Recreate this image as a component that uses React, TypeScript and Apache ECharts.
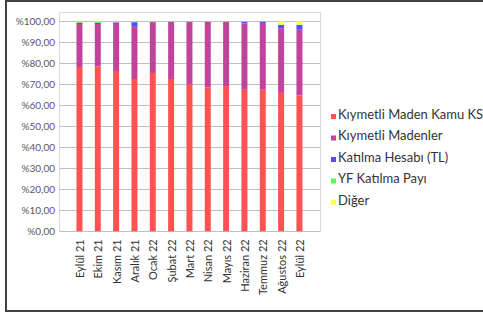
import React, { useEffect, useRef } from "react";
import * as echarts from "echarts";

const categories = [
  "Eylül 21", "Ekim 21", "Kasım 21", "Aralık 21", "Ocak 22", "Şubat 22", "Mart 22",
  "Nisan 22", "Mayıs 22", "Haziran 22", "Temmuz 22", "Ağustos 22", "Eylül 22",
];
const kamuKS = [78.2, 78.6, 76.3, 72.5, 75.4, 72.5, 70.1, 68.4, 69.2, 67.4, 67.4, 65.9, 64.7];
const madenler = [20.5, 20.1, 23.1, 24.9, 24.2, 27.2, 29.6, 31.3, 30.5, 31.6, 31.4, 30.8, 31.3];
const katilma = [0.5, 0.5, 0.2, 2.2, 0.1, 0.1, 0.1, 0.1, 0.1, 0.8, 1.0, 1.6, 2.3];
const yf = [0.6, 0.6, 0.2, 0.2, 0.2, 0.1, 0.1, 0.1, 0.1, 0.1, 0.1, 0.1, 0.1];
const diger = [0.2, 0.2, 0.2, 0.2, 0.1, 0.1, 0.1, 0.1, 0.1, 0.1, 0.1, 1.6, 1.6];
const yTicks = [0, 10, 20, 30, 40, 50, 60, 70, 80, 90, 100];

const seriesDefs = [
  { name: "Kıymetli Maden Kamu KS", data: kamuKS, color: "#FF5252" },
  { name: "Kıymetli Madenler", data: madenler, color: "#C2439B" },
  { name: "Katılma Hesabı (TL)", data: katilma, color: "#5050FF" },
  { name: "YF Katılma Payı", data: yf, color: "#50FF50" },
  { name: "Diğer", data: diger, color: "#FFFF50" },
];

const FONT = "Lato, 'Noto Sans', sans-serif";

export default function App() {
  const ref = useRef<HTMLDivElement>(null);
  useEffect(() => {
    if (!ref.current) return;
    const chart = echarts.init(ref.current, null, { renderer: "svg" });
    chart.setOption({
      animation: false,
      backgroundColor: "#ffffff",
      graphic: [
        {
          type: "rect",
          shape: { x: 6, y: 1, width: 490, height: 310 },
          style: { fill: "none", stroke: "#404040", lineWidth: 2 },
          z: 100,
        },
        {
          type: "rect",
          shape: { x: 59.5, y: 12.5, width: 261, height: 219 },
          style: { fill: "none", stroke: "#D9D9D9", lineWidth: 1 },
          z: 0,
        },
      ],
      grid: [
        { left: 70.3, right: 174.4, top: 21.3, bottom: 81.7 },
        { left: 59, right: 163, top: 21.3, bottom: 81.7 },
      ],
      xAxis: [
        {
          type: "category",
          gridIndex: 0,
          data: categories,
          axisLine: { show: false },
          axisTick: { show: false },
          axisLabel: {
            rotate: 90,
            interval: 0,
            margin: 8,
            fontSize: 11,
            fontFamily: FONT,
            color: "#333333",
          },
        },
        {
          type: "value",
          gridIndex: 1,
          show: false,
          min: 0,
          max: 1,
        },
      ],
      yAxis: [
        { type: "value", gridIndex: 0, min: 0, max: 100, show: false },
        {
          type: "value",
          gridIndex: 1,
          min: 0,
          max: 100,
          interval: 10,
          axisLine: { show: false },
          axisTick: { show: false },
          splitLine: { show: true, lineStyle: { color: "#BFBFBF", width: 1 } },
          axisLabel: {
            margin: 4,
            fontSize: 10,
            fontFamily: FONT,
            color: "#595959",
            formatter: (v: number) => (yTicks.includes(v) ? "%" + v + ",00" : ""),
          },
        },
      ],
      legend: {
        orient: "vertical",
        left: 326,
        top: 102,
        itemWidth: 5,
        itemHeight: 11,
        itemGap: 8.5,
        icon: "path://M0,0h5v0h-5z M0,6h5v5h-5z",
        textStyle: { fontSize: 13, fontFamily: FONT, color: "#333333", padding: [0, 0, 0, -3] },
        data: seriesDefs.map((s) => s.name),
      },
      series: seriesDefs.map((s) => ({
        type: "bar",
        name: s.name,
        stack: "total",
        xAxisIndex: 0,
        yAxisIndex: 0,
        data: s.data,
        barWidth: 6,
        itemStyle: { color: s.color },
      })),
    });
    return () => chart.dispose();
  }, []);
  return (
    <div
      ref={ref}
      style={{ position: "fixed", left: 0, top: 0, width: 483, height: 313 }}
    />
  );
}
